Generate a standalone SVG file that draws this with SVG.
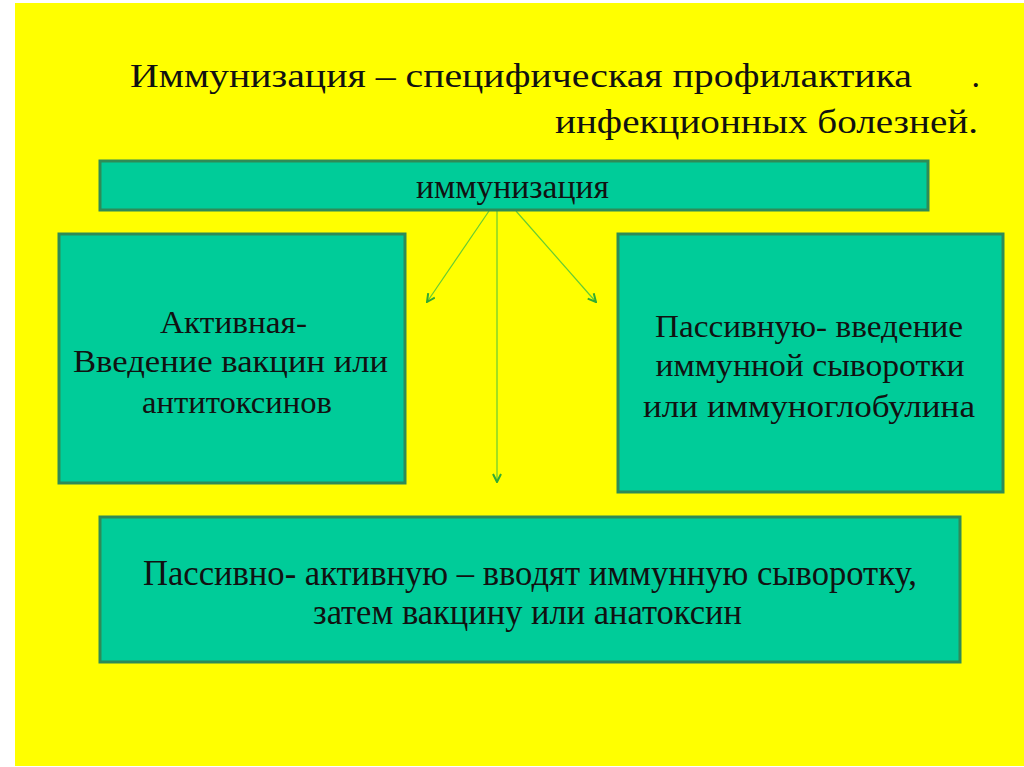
<svg xmlns="http://www.w3.org/2000/svg" width="1024" height="767" viewBox="0 0 1024 767">
<defs>
<style>
.box{fill:#00CC99;stroke:#2E8B57;stroke-width:3}
.t{font-family:"Liberation Serif","Times New Roman",serif;fill:#111;text-anchor:middle}
.conn{stroke:#66CC33;stroke-width:1.2;fill:none}
</style>
<marker id="ah" viewBox="0 0 10 10" refX="9" refY="5" markerWidth="10" markerHeight="10" markerUnits="userSpaceOnUse" orient="auto">
<path d="M1,1 L9,5 L1,9" fill="none" stroke="#33AA33" stroke-width="2"/>
</marker>
</defs>
<rect x="0" y="0" width="1024" height="767" fill="#FFFFFF"/>
<rect x="15" y="3" width="1009" height="763" fill="#FFFF00"/>
<g id="title">
<text class="t" x="521" y="87" font-size="34" textLength="782" lengthAdjust="spacingAndGlyphs">Иммунизация – специфическая профилактика</text>
<text class="t" x="980" y="87" font-size="34" style="text-anchor:end">.</text>
<text class="t" x="766.5" y="133" font-size="34" textLength="423" lengthAdjust="spacingAndGlyphs">инфекционных болезней.</text>
</g>
<g id="connectors">
<line class="conn" x1="489" y1="211" x2="427" y2="302" marker-end="url(#ah)"/>
<line class="conn" x1="497" y1="211" x2="497" y2="482" marker-end="url(#ah)"/>
<line class="conn" x1="516" y1="211" x2="596" y2="302" marker-end="url(#ah)"/>
</g>
<g id="node-top">
<rect class="box" x="100" y="161" width="828" height="49"/>
<text class="t" x="512.5" y="198" font-size="33" textLength="193" lengthAdjust="spacingAndGlyphs">иммунизация</text>
</g>
<g id="node-active">
<rect class="box" x="59" y="234" width="346" height="249"/>
<text class="t" x="233.5" y="333" font-size="32" textLength="147" lengthAdjust="spacingAndGlyphs">Активная-</text>
<text class="t" x="230.5" y="372" font-size="32" textLength="315" lengthAdjust="spacingAndGlyphs">Введение вакцин или</text>
<text class="t" x="237" y="413" font-size="32" textLength="190" lengthAdjust="spacingAndGlyphs">антитоксинов</text>
</g>
<g id="node-passive">
<rect class="box" x="618" y="234" width="385" height="258"/>
<text class="t" x="809" y="337" font-size="32" textLength="308" lengthAdjust="spacingAndGlyphs">Пассивную- введение</text>
<text class="t" x="810" y="376" font-size="32" textLength="309" lengthAdjust="spacingAndGlyphs">иммунной сыворотки</text>
<text class="t" x="809" y="417" font-size="32" textLength="332" lengthAdjust="spacingAndGlyphs">или иммуноглобулина</text>
</g>
<g id="node-passive-active">
<rect class="box" x="100" y="517" width="860" height="145"/>
<text class="t" x="530" y="585" font-size="35" textLength="774" lengthAdjust="spacingAndGlyphs">Пассивно- активную – вводят иммунную сыворотку,</text>
<text class="t" x="527.5" y="624" font-size="35" textLength="429" lengthAdjust="spacingAndGlyphs">затем вакцину или анатоксин</text>
</g>
</svg>
